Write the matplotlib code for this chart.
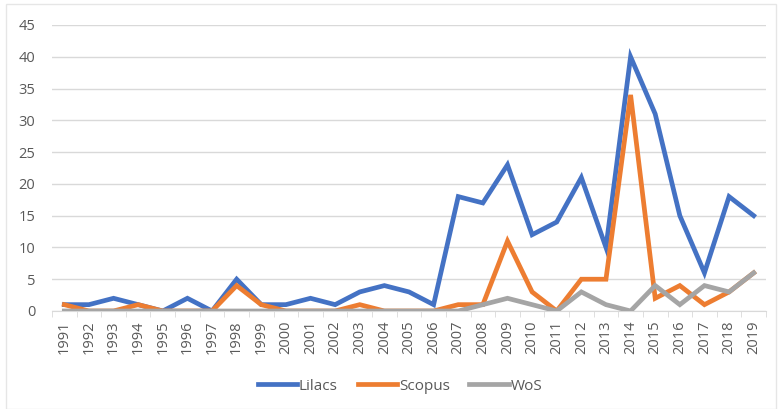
import matplotlib
matplotlib.use("Agg")
import matplotlib.pyplot as plt
import numpy as np

years = [str(y) for y in range(1991, 2020)]
lilacs = [1, 1, 2, 1, 0, 2, 0, 5, 1, 1, 2, 1, 3, 4, 3, 1, 18, 17, 23, 12, 14, 21, 10, 40, 31, 15, 6, 18, 15]
scopus = [1, 0, 0, 1, 0, 0, 0, 4, 1, 0, 0, 0, 1, 0, 0, 0, 1, 1, 11, 3, 0, 5, 5, 34, 2, 4, 1, 3, 6]
wos = [0, 0, 0, 0, 0, 0, 0, 0, 0, 0, 0, 0, 0, 0, 0, 0, 0, 1, 2, 1, 0, 3, 1, 0, 4, 1, 4, 3, 6]
y_ticks = list(range(0, 50, 5))

plt.rcParams['font.family'] = ['Open Sans', 'DejaVu Sans']

fig = plt.figure(figsize=(7.79, 4.09), dpi=100)
ax = fig.add_axes([52 / 779, 1 - 311 / 409, (766 - 52) / 779, (311 - 25) / 409])

x = np.arange(len(years))
ax.plot(x, lilacs, color='#4472C4', lw=3.4, label='Lilacs', solid_joinstyle='miter', zorder=3)
ax.plot(x, scopus, color='#ED7D31', lw=3.4, label='Scopus', solid_joinstyle='miter', zorder=4)
ax.plot(x, wos, color='#A5A5A5', lw=3.4, label='WoS', solid_joinstyle='miter', zorder=5)

ax.set_xlim(-0.5, len(years) - 0.5)
ax.set_ylim(0, 45)
ax.set_yticks(y_ticks)
ax.set_xticks(x)
ax.set_xticklabels(years, rotation=90)
ax.set_xticks(np.arange(-0.5, len(years)), minor=True)

ax.grid(axis='y', color='#D9D9D9', lw=1)
ax.set_axisbelow(True)
for s in ['top', 'right', 'left']:
    ax.spines[s].set_visible(False)
ax.spines['bottom'].set_color('#D9D9D9')
ax.tick_params(axis='y', length=0, labelsize=10.5, labelcolor='#595959', pad=12)
ax.tick_params(axis='x', which='major', length=0, labelsize=10.5, labelcolor='#595959', pad=7)
ax.tick_params(axis='x', which='minor', length=4, color='#D9D9D9')

fig.legend(loc='center', bbox_to_anchor=(400 / 779, 1 - 386 / 409), ncol=3, frameon=False,
           fontsize=11, labelcolor='#595959', handlelength=2.6, columnspacing=1.3,
           handletextpad=0.1)

fig.patches.append(plt.Rectangle((6 / 779, 0), 770 / 779, 0.99, transform=fig.transFigure,
                                 fill=False, edgecolor='#E6E6E6', lw=1))

fig.savefig('out.png', dpi=100)
